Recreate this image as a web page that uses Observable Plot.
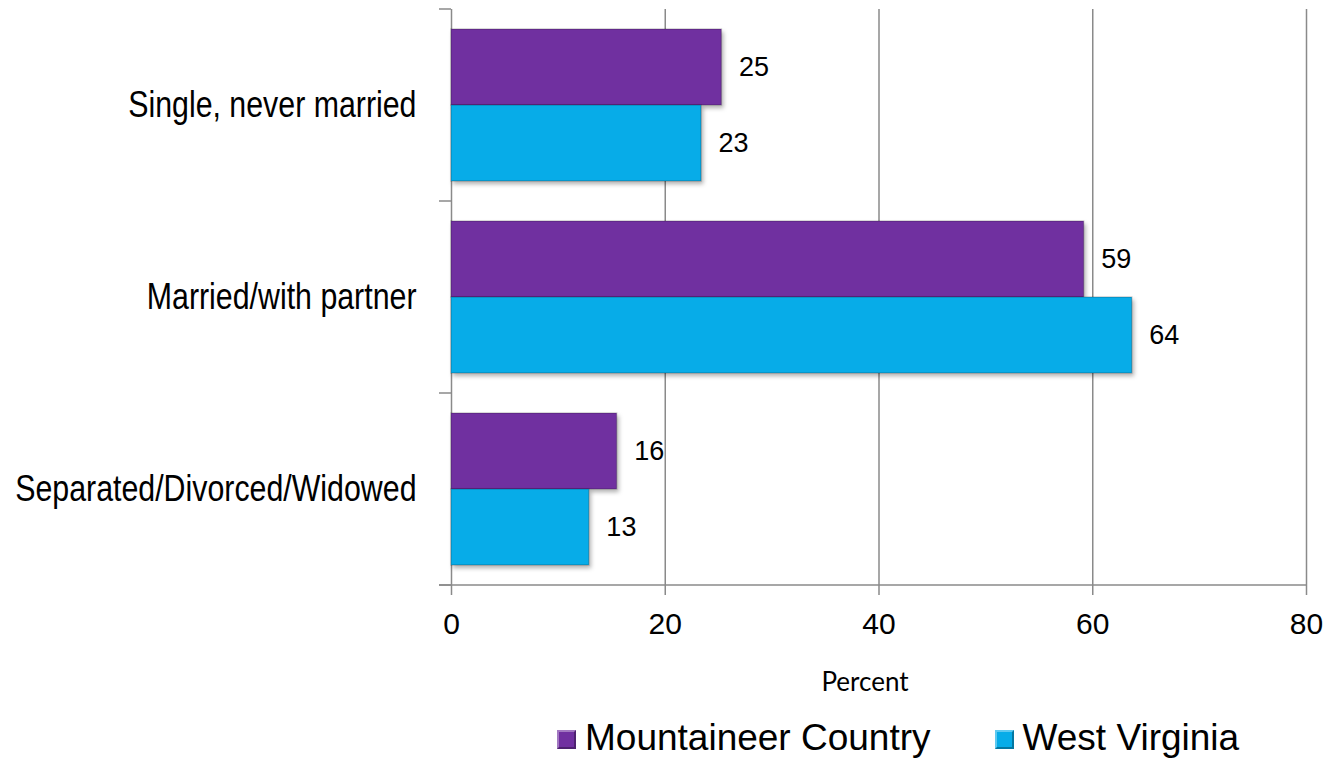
<!DOCTYPE html>
<html><head><meta charset="utf-8">
<script src="https://cdn.jsdelivr.net/npm/d3@7"></script>
<script src="https://cdn.jsdelivr.net/npm/@observablehq/plot@0.6"></script>
<style>
html,body{margin:0;padding:0;background:#fff;overflow:hidden;}
#wrap{position:relative;width:1327px;height:758px;}
#wrap svg{position:absolute;left:0;top:0;}
#xtitle{position:absolute;left:865px;top:668px;transform:translateX(-50%);font-family:Lato,'Open Sans',sans-serif;font-size:26px;line-height:1;color:#000;white-space:nowrap;}
#legend{position:absolute;left:557px;top:719px;display:flex;align-items:center;font-family:'Liberation Sans',Arial,sans-serif;font-size:37px;line-height:1;color:#000;white-space:nowrap;}
#legend .item{display:flex;align-items:center;}
#legend .item + .item{margin-left:64px;}
#legend .sw{width:19px;height:19px;box-sizing:border-box;margin-right:9px;margin-top:4px;border:2px solid;border-color:rgba(255,255,255,0.35) rgba(0,0,0,0.3) rgba(0,0,0,0.3) rgba(255,255,255,0.35);}
</style></head><body>
<div id="wrap"><div id="xtitle"></div><div id="legend"></div></div>
<script>
const categories = ["Single, never married", "Married/with partner", "Separated/Divorced/Widowed"];
const seriesNames = ["Mountaineer Country", "West Virginia"];
const mountaineerCountry = [25.3, 59.2, 15.5];
const westVirginia = [23.4, 63.7, 12.9];
const xTicks = [0, 20, 40, 60, 80];
const seriesColors = ["#7030a0", "#07ace8"];
const axisTitle = "Percent";

const rows = categories.flatMap((c, i) => [
  {category: c, series: seriesNames[0], value: mountaineerCountry[i]},
  {category: c, series: seriesNames[1], value: westVirginia[i]}
]);

function hasFont(name) {
  const ctx = document.createElement("canvas").getContext("2d");
  const s = "Separated/Divorced/Widowed mmmwwwiii";
  ctx.font = "40px monospace"; const a = ctx.measureText(s).width;
  ctx.font = `40px '${name}', monospace`; const b = ctx.measureText(s).width;
  return a !== b;
}
const narrow = hasFont("Liberation Sans Narrow");

const gridColor = "#8a8a8a";
const plot = Plot.plot({
  width: 1327, height: 650,
  marginTop: 9, marginBottom: 65, marginLeft: 451, marginRight: 21,
  style: {fontFamily: "'Liberation Sans', Arial, sans-serif", background: "white", color: "black"},
  x: {domain: [xTicks[0], xTicks[xTicks.length - 1]], axis: null},
  y: {domain: seriesNames, paddingInner: 0, paddingOuter: 0.25, axis: null},
  fy: {domain: categories, padding: 0, axis: null},
  color: {domain: seriesNames, range: seriesColors},
  marks: [
    Plot.ruleX(xTicks, {stroke: gridColor, strokeWidth: 1.5}),
    Plot.barX(rows, {fy: "category", y: "series", x: "value", fill: "series"}),
    Plot.text(rows, {fy: "category", y: "series", x: "value", text: d => String(Math.round(d.value)),
      dx: 17, textAnchor: "start", fontSize: 27, fill: "black"}),
    Plot.axisX({anchor: "bottom", ticks: xTicks, tickSize: 10, tickPadding: 17, fontSize: 30,
      stroke: gridColor, strokeWidth: 1.5, fill: "black", label: null, tickFormat: d => String(d)}),
    Plot.axisFy({anchor: "left", tickSize: 0, tickPadding: 35, fontSize: 37, label: null,
      fontFamily: narrow ? "'Liberation Sans Narrow'" : "'Liberation Sans', Arial, sans-serif", fill: "black"})
  ]
});

document.getElementById("wrap").prepend(plot);
const svg = d3.select(plot);

// bar shading
svg.selectAll("g[aria-label='bar'] rect")
  .style("filter", "drop-shadow(2px 3px 2px rgba(0,0,0,0.3))")
  .attr("stroke", "rgba(0,0,0,0.18)").attr("stroke-width", 1.5);

// condense category labels if narrow font isn't installed
if (!narrow) {
  svg.selectAll("g[aria-label='fy-axis tick label'] text").each(function() {
    const t = this.getAttribute("transform") || "";
    this.setAttribute("transform", t + " scale(0.82,1)");
  });
}

// category boundary ticks and bottom axis line from scales
const xs = plot.scale("x"), fys = plot.scale("fy");
const x0 = xs.apply(xTicks[0]), x1 = xs.apply(xTicks[xTicks.length - 1]);
const tops = categories.map(c => fys.apply(c));
const bounds = [...tops, tops[tops.length - 1] + fys.bandwidth];
const g = svg.append("g").attr("stroke", gridColor).attr("stroke-width", 1.5);
g.selectAll("line.b").data(bounds).join("line")
  .attr("x1", x0 - 12).attr("x2", x0).attr("y1", d => d).attr("y2", d => d);
g.append("line").attr("x1", x0 - 12).attr("x2", x1)
  .attr("y1", bounds[bounds.length - 1]).attr("y2", bounds[bounds.length - 1]);

// title and legend
document.getElementById("xtitle").textContent = axisTitle;
const leg = d3.select("#legend");
seriesNames.forEach((s, i) => {
  const it = leg.append("div").attr("class", "item");
  it.append("div").attr("class", "sw").style("background", seriesColors[i]);
  it.append("span").text(s);
});
</script>
</body></html>
